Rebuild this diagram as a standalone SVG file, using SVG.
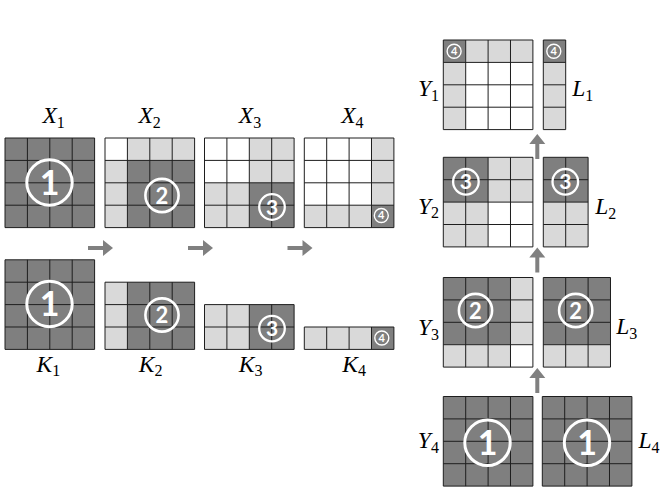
<svg xmlns="http://www.w3.org/2000/svg" width="664" height="498" viewBox="0 0 664 498">
<style>
.d{fill:#7f7f7f}
.l{fill:#d9d9d9}
.w{fill:#ffffff}
.gl{fill:none;stroke:#1e1e1e;stroke-width:1}
.c{fill:none;stroke:#ffffff}
.cb{stroke-width:3}
.cm{stroke-width:2.6}
.cs{stroke-width:2.3}
.cx{stroke-width:1.4}
.n{fill:#ffffff;font-family:Lato,"Open Sans",sans-serif;font-weight:700;text-anchor:middle}
.lab{font-family:"Liberation Serif",serif;font-size:23.5px;fill:#000}
.lab .v{font-style:italic}
.lab .s{font-size:16px}
.arr{fill:#808080}
</style>
<defs>
<path id="g44" class="gl" d="M0 0H89.6V89.6H0ZM0 22.4H89.6M0 44.8H89.6M0 67.2H89.6M22.4 0V89.6M44.8 0V89.6M67.2 0V89.6"/>
<path id="g43" class="gl" d="M0 0H89.6V67.2H0ZM0 22.4H89.6M0 44.8H89.6M22.4 0V67.2M44.8 0V67.2M67.2 0V67.2"/>
<path id="g42" class="gl" d="M0 0H89.6V44.8H0ZM0 22.4H89.6M22.4 0V44.8M44.8 0V44.8M67.2 0V44.8"/>
<path id="g41" class="gl" d="M0 0H89.6V22.4H0ZM22.4 0V22.4M44.8 0V22.4M67.2 0V22.4"/>
<path id="g14" class="gl" d="M0 0H22.4V89.6H0ZM0 22.4H22.4M0 44.8H22.4M0 67.2H22.4"/>
<path id="g24" class="gl" d="M0 0H44.8V89.6H0ZM0 22.4H44.8M0 44.8H44.8M0 67.2H44.8M22.4 0V89.6"/>
<path id="g34" class="gl" d="M0 0H67.2V89.6H0ZM0 22.4H67.2M0 44.8H67.2M0 67.2H67.2M22.4 0V89.6M44.8 0V89.6"/>
<path id="ar" d="M0 -2H15V-8L25 0L15 8V2H0Z"/>
</defs>

<g id="connectors">
<use href="#ar" class="arr" transform="translate(88,248)"/>
<use href="#ar" class="arr" transform="translate(188,248)"/>
<use href="#ar" class="arr" transform="translate(287.5,248)"/>
<use href="#ar" class="arr" transform="translate(537.3,159) rotate(-90)"/>
<use href="#ar" class="arr" transform="translate(537.3,272.5) rotate(-90)"/>
<use href="#ar" class="arr" transform="translate(537.3,393) rotate(-90)"/>
</g>

<g id="X1" transform="translate(5,138)">
<rect class="d" width="89.6" height="89.6"/>
<use href="#g44"/>
<circle class="c cb" cx="44.5" cy="44.5" r="22.7"/>
<text class="n" x="44.5" y="56.8" font-size="34">1</text>
</g>
<g id="X2" transform="translate(105,138)">
<rect class="w" width="22.4" height="22.4"/>
<rect class="l" x="22.4" width="67.2" height="22.4"/>
<rect class="l" y="22.4" width="22.4" height="67.2"/>
<rect class="d" x="22.4" y="22.4" width="67.2" height="67.2"/>
<use href="#g44"/>
<circle class="c cm" cx="57" cy="57.5" r="16.6"/>
<text class="n" x="57" y="65.5" font-size="22">2</text>
</g>
<g id="X3" transform="translate(204.5,138)">
<rect class="w" width="44.8" height="44.8"/>
<rect class="l" x="44.8" width="44.8" height="44.8"/>
<rect class="l" y="44.8" width="44.8" height="44.8"/>
<rect class="d" x="44.8" y="44.8" width="44.8" height="44.8"/>
<use href="#g44"/>
<circle class="c cs" cx="67.5" cy="69" r="12.8"/>
<text class="n" x="67.5" y="76.5" font-size="21">3</text>
</g>
<g id="X4" transform="translate(304.3,138)">
<rect class="w" width="67.2" height="67.2"/>
<rect class="l" x="67.2" width="22.4" height="67.2"/>
<rect class="l" y="67.2" width="67.2" height="22.4"/>
<rect class="d" x="67.2" y="67.2" width="22.4" height="22.4"/>
<use href="#g44"/>
<circle class="c cx" cx="77" cy="77.5" r="7"/>
<text class="n" x="77" y="81.4" font-size="11">4</text>
</g>

<g id="K1" transform="translate(5,259.8)">
<rect class="d" width="89.6" height="89.6"/>
<use href="#g44"/>
<circle class="c cb" cx="44.5" cy="44.2" r="22.7"/>
<text class="n" x="44.5" y="56.5" font-size="34">1</text>
</g>
<g id="K2" transform="translate(105,282.2)">
<rect class="l" width="22.4" height="67.2"/>
<rect class="d" x="22.4" width="67.2" height="67.2"/>
<use href="#g43"/>
<circle class="c cm" cx="57" cy="32.8" r="16.6"/>
<text class="n" x="57" y="40.8" font-size="22">2</text>
</g>
<g id="K3" transform="translate(204.5,304.6)">
<rect class="l" width="44.8" height="44.8"/>
<rect class="d" x="44.8" width="44.8" height="44.8"/>
<use href="#g42"/>
<circle class="c cs" cx="67.5" cy="24" r="12.8"/>
<text class="n" x="67.5" y="31.5" font-size="21">3</text>
</g>
<g id="K4" transform="translate(304.3,327)">
<rect class="l" width="67.2" height="22.4"/>
<rect class="d" x="67.2" width="22.4" height="22.4"/>
<use href="#g41"/>
<circle class="c cx" cx="77.5" cy="11" r="7"/>
<text class="n" x="77.5" y="14.9" font-size="11">4</text>
</g>

<g id="Y1" transform="translate(443.3,40)">
<rect class="d" width="22.4" height="22.4"/>
<rect class="l" x="22.4" width="67.2" height="22.4"/>
<rect class="l" y="22.4" width="22.4" height="67.2"/>
<rect class="w" x="22.4" y="22.4" width="67.2" height="67.2"/>
<use href="#g44"/>
<circle class="c cx" cx="10.8" cy="11.2" r="7"/>
<text class="n" x="10.8" y="15.1" font-size="11">4</text>
</g>
<g id="L1" transform="translate(543.3,40)">
<rect class="d" width="22.4" height="22.4"/>
<rect class="l" y="22.4" width="22.4" height="67.2"/>
<use href="#g14"/>
<circle class="c cx" cx="10.5" cy="11.2" r="7"/>
<text class="n" x="10.5" y="15.1" font-size="11">4</text>
</g>
<g id="Y2" transform="translate(443.3,157.3)">
<rect class="d" width="44.8" height="44.8"/>
<rect class="l" x="44.8" width="44.8" height="44.8"/>
<rect class="l" y="44.8" width="44.8" height="44.8"/>
<rect class="w" x="44.8" y="44.8" width="44.8" height="44.8"/>
<use href="#g44"/>
<circle class="c cs" cx="22.6" cy="24.5" r="12.8"/>
<text class="n" x="22.6" y="32" font-size="21">3</text>
</g>
<g id="L2" transform="translate(543.3,157.3)">
<rect class="d" width="44.8" height="44.8"/>
<rect class="l" y="44.8" width="44.8" height="44.8"/>
<use href="#g24"/>
<circle class="c cs" cx="22" cy="24.5" r="12.8"/>
<text class="n" x="22" y="32" font-size="21">3</text>
</g>
<g id="Y3" transform="translate(443.3,277.5)">
<rect class="d" width="67.2" height="67.2"/>
<rect class="l" x="67.2" width="22.4" height="67.2"/>
<rect class="l" y="67.2" width="67.2" height="22.4"/>
<rect class="w" x="67.2" y="67.2" width="22.4" height="22.4"/>
<use href="#g44"/>
<circle class="c cm" cx="32.2" cy="33" r="16.6"/>
<text class="n" x="32.2" y="41" font-size="22">2</text>
</g>
<g id="L3" transform="translate(543.3,277.5)">
<rect class="d" width="67.2" height="67.2"/>
<rect class="l" y="67.2" width="67.2" height="22.4"/>
<use href="#g34"/>
<circle class="c cm" cx="32.4" cy="33" r="16.6"/>
<text class="n" x="32.4" y="41" font-size="22">2</text>
</g>
<g id="Y4" transform="translate(443.3,396.5)">
<rect class="d" width="89.6" height="89.6"/>
<use href="#g44"/>
<circle class="c cb" cx="44.2" cy="46.3" r="22.7"/>
<text class="n" x="44.2" y="58.6" font-size="34">1</text>
</g>
<g id="L4" transform="translate(542.3,396.5)">
<rect class="d" width="89.6" height="89.6"/>
<use href="#g44"/>
<circle class="c cb" cx="44.7" cy="46.3" r="22.7"/>
<text class="n" x="44.7" y="58.6" font-size="34">1</text>
</g>

<g id="labels">
<text class="lab" x="42.5" y="123.3"><tspan class="v">X</tspan><tspan class="s" dy="4.5">1</tspan></text>
<text class="lab" x="138.5" y="123.3"><tspan class="v">X</tspan><tspan class="s" dy="4.5">2</tspan></text>
<text class="lab" x="238.8" y="123.3"><tspan class="v">X</tspan><tspan class="s" dy="4.5">3</tspan></text>
<text class="lab" x="341.2" y="123.3"><tspan class="v">X</tspan><tspan class="s" dy="4.5">4</tspan></text>
<text class="lab" x="36.5" y="371.7"><tspan class="v">K</tspan><tspan class="s" dy="4.5">1</tspan></text>
<text class="lab" x="138.8" y="371.7"><tspan class="v">K</tspan><tspan class="s" dy="4.5">2</tspan></text>
<text class="lab" x="238.8" y="371.7"><tspan class="v">K</tspan><tspan class="s" dy="4.5">3</tspan></text>
<text class="lab" x="342.2" y="371.7"><tspan class="v">K</tspan><tspan class="s" dy="4.5">4</tspan></text>
<text class="lab" x="418" y="96"><tspan class="v">Y</tspan><tspan class="s" dy="4.5">1</tspan></text>
<text class="lab" x="418" y="213.5"><tspan class="v">Y</tspan><tspan class="s" dy="4.5">2</tspan></text>
<text class="lab" x="418" y="335"><tspan class="v">Y</tspan><tspan class="s" dy="4.5">3</tspan></text>
<text class="lab" x="417.8" y="448"><tspan class="v">Y</tspan><tspan class="s" dy="4.5">4</tspan></text>
<text class="lab" x="572.2" y="96"><tspan class="v">L</tspan><tspan class="s" dy="4.5">1</tspan></text>
<text class="lab" x="595.2" y="214"><tspan class="v">L</tspan><tspan class="s" dy="4.5">2</tspan></text>
<text class="lab" x="616.2" y="334"><tspan class="v">L</tspan><tspan class="s" dy="4.5">3</tspan></text>
<text class="lab" x="638.5" y="448"><tspan class="v">L</tspan><tspan class="s" dy="4.5">4</tspan></text>
</g>
</svg>
